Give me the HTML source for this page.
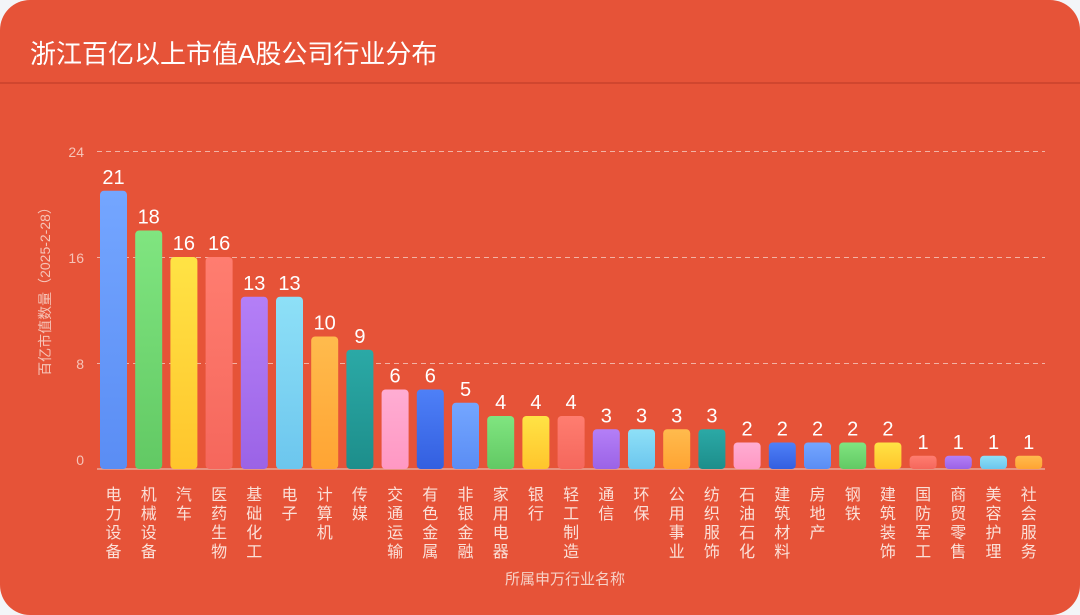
<!DOCTYPE html>
<html><head><meta charset="utf-8"><style>
html,body{margin:0;padding:0;background:#f3f5f8;}
body{width:1080px;height:615px;overflow:hidden;position:relative;font-family:"Liberation Sans","Noto Sans CJK SC",sans-serif;}
.card{position:absolute;left:0;top:0;width:1080px;height:615px;background:#E65338;border-radius:30px;overflow:hidden;}
</style></head><body>
<div class="card">
<svg width="1080" height="615" xmlns="http://www.w3.org/2000/svg" font-family="Liberation Sans, Noto Sans CJK SC, sans-serif">
<defs>
<linearGradient id="g0" x1="0" y1="0" x2="0" y2="1"><stop offset="0" stop-color="#74a6ff"/><stop offset="1" stop-color="#5a8df4"/></linearGradient>
<linearGradient id="g1" x1="0" y1="0" x2="0" y2="1"><stop offset="0" stop-color="#80e580"/><stop offset="1" stop-color="#62c964"/></linearGradient>
<linearGradient id="g2" x1="0" y1="0" x2="0" y2="1"><stop offset="0" stop-color="#ffe345"/><stop offset="1" stop-color="#ffc52c"/></linearGradient>
<linearGradient id="g3" x1="0" y1="0" x2="0" y2="1"><stop offset="0" stop-color="#ff7d70"/><stop offset="1" stop-color="#f5675c"/></linearGradient>
<linearGradient id="g4" x1="0" y1="0" x2="0" y2="1"><stop offset="0" stop-color="#b47ff7"/><stop offset="1" stop-color="#9b63e6"/></linearGradient>
<linearGradient id="g5" x1="0" y1="0" x2="0" y2="1"><stop offset="0" stop-color="#8ee0f7"/><stop offset="1" stop-color="#6cc6ee"/></linearGradient>
<linearGradient id="g6" x1="0" y1="0" x2="0" y2="1"><stop offset="0" stop-color="#ffbb4d"/><stop offset="1" stop-color="#ffa433"/></linearGradient>
<linearGradient id="g7" x1="0" y1="0" x2="0" y2="1"><stop offset="0" stop-color="#2ba9a6"/><stop offset="1" stop-color="#1d8e8b"/></linearGradient>
<linearGradient id="g8" x1="0" y1="0" x2="0" y2="1"><stop offset="0" stop-color="#ffadd3"/><stop offset="1" stop-color="#ff98c3"/></linearGradient>
<linearGradient id="g9" x1="0" y1="0" x2="0" y2="1"><stop offset="0" stop-color="#4e80f7"/><stop offset="1" stop-color="#335fe0"/></linearGradient>
</defs>
<text x="30" y="63" font-size="26" fill="#fff">浙江百亿以上市值A股公司行业分布</text>
<line x1="0" y1="83" x2="1080" y2="83" stroke="#c9432c" stroke-width="1.5"/>
<g stroke="#f2b2a4" stroke-dasharray="5,4" stroke-width="1">
<line x1="97" y1="151.5" x2="1045" y2="151.5"/>
<line x1="97" y1="257.5" x2="1045" y2="257.5"/>
<line x1="97" y1="363.5" x2="1045" y2="363.5"/>
</g>
<line x1="97" y1="469" x2="1045" y2="469" stroke="#e8a898" stroke-width="1.5"/>
<g font-size="14" fill="#f6c4b8" text-anchor="end">
<text x="84" y="157">24</text><text x="84" y="263">16</text><text x="84" y="369">8</text><text x="84" y="465">0</text>
</g>
<text transform="translate(50,288) rotate(-90)" font-size="14" fill="#f6c4b8" text-anchor="middle">百亿市值数量（2025-2-28）</text>
<text x="565" y="584" font-size="15" fill="#f6d0c6" text-anchor="middle">所属申万行业名称</text>
<g id="bars"></g>
</svg>
</div>
<script>
var names=["电力设备","机械设备","汽车","医药生物","基础化工","电子","计算机","传媒","交通运输","有色金属","非银金融","家用电器","银行","轻工制造","通信","环保","公用事业","纺织服饰","石油石化","建筑材料","房地产","钢铁","建筑装饰","国防军工","商贸零售","美容护理","社会服务"];
var vals=[21,18,16,16,13,13,10,9,6,6,5,4,4,4,3,3,3,3,2,2,2,2,2,1,1,1,1];
(function(){
var g=document.getElementById("bars"),h="";
for(var i=0;i<27;i++){var cx=113.5+i*35.2,ty=469-vals[i]*13.25,hh=469-ty;
h+='<rect x="'+(cx-13.5)+'" y="'+ty+'" width="27" height="'+hh+'" rx="4" fill="url(#g'+(i%10)+')"/>';
h+='<text x="'+cx+'" y="'+(ty-7)+'" font-size="20" fill="#fff" text-anchor="middle">'+vals[i]+'</text>';
for(var j=0;j<names[i].length;j++)h+='<text x="'+cx+'" y="'+(500+j*19)+'" font-size="16" fill="#fbe0d8" text-anchor="middle">'+names[i][j]+'</text>';}
g.innerHTML=h;
})();
</script>
</body></html>
